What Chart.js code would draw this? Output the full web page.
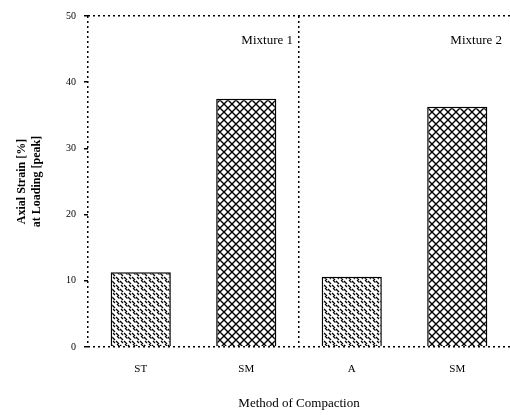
<!DOCTYPE html>
<html>
<head>
<meta charset="utf-8">
<script src="https://cdn.jsdelivr.net/npm/chart.js@4"></script>
<style>
html,body{margin:0;padding:0;background:#fff;}
#wrap{width:510px;height:415px;}
</style>
</head>
<body>
<div id="wrap"><canvas id="c" width="510" height="415"></canvas></div>
<script>
const categories = ["ST", "SM", "A", "SM"];
const strainValues = [11.3, 37.5, 10.6, 36.3];
const groupLabels = ["Mixture 1", "Mixture 2"];
const yTicks = [0, 10, 20, 30, 40, 50];

function makePattern(dense) {
  const p = document.createElement('canvas');
  p.width = 8; p.height = 8;
  const g = p.getContext('2d');
  g.fillStyle = '#fff';
  g.fillRect(0, 0, 8, 8);
  g.strokeStyle = '#000';
  g.lineCap = 'square';
  g.beginPath();
  if (dense) {
    g.lineWidth = 1.4;
    g.moveTo(0, 0); g.lineTo(8, 8);
    g.moveTo(8, 0); g.lineTo(0, 8);
    g.moveTo(-4, 4); g.lineTo(4, 12);
    g.moveTo(4, -4); g.lineTo(12, 4);
    g.moveTo(-4, 4); g.lineTo(4, -4);
    g.moveTo(4, 12); g.lineTo(12, 4);
  } else {
    g.lineWidth = 1.3;
    g.moveTo(0.5, 1.5); g.lineTo(2.5, 3.5);
    g.moveTo(4.5, 5.5); g.lineTo(6.5, 7.5);
    g.moveTo(5.5, 0.5); g.lineTo(7, 2);
    g.moveTo(1.5, 5.5); g.lineTo(2.5, 6.5);
  }
  g.stroke();
  return g.createPattern(p, 'repeat');
}
const ctx = document.getElementById('c').getContext('2d');
const lightP = makePattern(false);
const denseP = makePattern(true);

const groupLabelPlugin = {
  id: 'groupLabels',
  afterDatasetsDraw(chart) {
    const x = chart.scales.x;
    const c = chart.ctx;
    c.save();
    c.font = '13px "Liberation Serif", serif';
    c.fillStyle = '#000';
    c.textAlign = 'right';
    c.textBaseline = 'middle';
    const a = chart.chartArea;
    const edge1 = (x.getPixelForValue(1) + x.getPixelForValue(2)) / 2;
    c.fillText(groupLabels[0], edge1 - 6, a.top + 25);
    c.fillText(groupLabels[1], a.right - 8, a.top + 25);
    c.restore();
  }
};

new Chart(ctx, {
  type: 'bar',
  data: {
    labels: categories,
    datasets: [{
      data: strainValues,
      backgroundColor: [lightP, denseP, lightP, denseP],
      borderColor: '#000',
      borderWidth: 1.5,
      barPercentage: 0.57,
      categoryPercentage: 1.0
    }]
  },
  options: {
    responsive: false,
    animation: false,
    layout: { padding: { top: 16, right: 0, left: 0, bottom: 0 } },
    plugins: { legend: { display: false }, tooltip: { enabled: false } },
    scales: {
      x: {
        offset: true,
        grid: {
          offset: true,
          drawTicks: false,
          color: (c) => (c.index === 0 || c.index === 2) ? '#000' : 'rgba(0,0,0,0)',
          lineWidth: 1.5
        },
        border: { display: false, dash: [2, 3] },
        ticks: { color: '#000', font: { family: 'Liberation Serif', size: 11 }, padding: 16 },
        title: { display: true, text: 'Method of Compaction', color: '#000', font: { family: 'Liberation Serif', size: 13 }, padding: { top: 14 } },
        afterFit: (s) => { s.height = 68; }
      },
      y: {
        min: 0, max: 50,
        afterBuildTicks: (s) => { s.ticks = yTicks.map(v => ({ value: v })); },
        grid: {
          drawOnChartArea: true,
          color: (c) => (c.index === 0 || c.index === yTicks.length - 1) ? '#000' : 'rgba(0,0,0,0)',
          tickColor: '#000',
          tickLength: 4,
          lineWidth: 1.5
        },
        border: { display: false, dash: [2, 3] },
        ticks: { color: '#000', font: { family: 'Liberation Serif', size: 10 }, padding: 8 },
        title: { display: true, text: ['Axial Strain [%]', 'at Loading [peak]'], color: '#000', font: { family: 'Liberation Serif', size: 12, weight: 'bold' }, padding: { top: 15, bottom: 4 } },
        afterFit: (s) => { s.width = 88; }
      }
    }
  },
  plugins: [groupLabelPlugin]
});
</script>
</body>
</html>
